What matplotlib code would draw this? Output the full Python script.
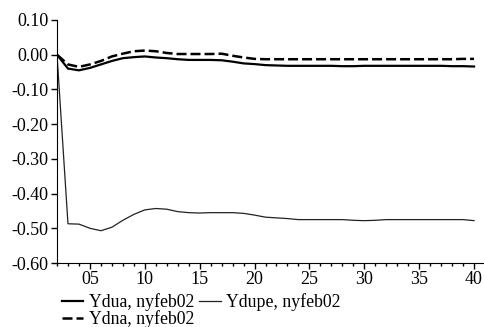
import matplotlib
matplotlib.use("Agg")
from matplotlib import pyplot
from matplotlib.ticker import MultipleLocator, FixedLocator

# donnees
periodes = list(range(2, 41))
ydua = [0.0, -0.040, -0.045, -0.038, -0.028, -0.018, -0.010, -0.007, -0.005,
        -0.008, -0.010, -0.013, -0.015, -0.015, -0.015, -0.016, -0.020,
        -0.025, -0.027, -0.030, -0.031, -0.032, -0.032, -0.032, -0.032,
        -0.032, -0.033, -0.033, -0.032, -0.032, -0.032, -0.032, -0.032,
        -0.032, -0.032, -0.032, -0.033, -0.033, -0.034]
ydupe = [0.0, -0.487, -0.488, -0.500, -0.507, -0.497, -0.477, -0.460, -0.447,
         -0.443, -0.445, -0.452, -0.455, -0.456, -0.455, -0.455, -0.455,
         -0.457, -0.462, -0.468, -0.470, -0.472, -0.475, -0.475, -0.475,
         -0.475, -0.475, -0.477, -0.478, -0.477, -0.475, -0.475, -0.475,
         -0.475, -0.475, -0.475, -0.475, -0.475, -0.478]
ydna = [0.0, -0.028, -0.035, -0.028, -0.018, -0.005, 0.003, 0.010, 0.012,
        0.010, 0.005, 0.002, 0.002, 0.002, 0.002, 0.003, -0.003, -0.008,
        -0.012, -0.013, -0.013, -0.013, -0.013, -0.013, -0.013, -0.013,
        -0.013, -0.013, -0.013, -0.013, -0.013, -0.013, -0.013, -0.013,
        -0.013, -0.013, -0.013, -0.012, -0.012]
ticks_x = [5, 10, 15, 20, 25, 30, 35, 40]
etiquettes_x = ['05', '10', '15', '20', '25', '30', '35', '40']
ticks_y = [0.10, 0.00, -0.10, -0.20, -0.30, -0.40, -0.50, -0.60]

pyplot.rcParams['font.family'] = 'Liberation Serif'

fig = pyplot.figure(figsize=(4.85, 3.27), dpi=100)
ax = fig.add_axes([57 / 485, 1 - 263 / 327, 1 - 57 / 485, (263 - 20) / 327])

l1, = ax.plot(periodes, ydua, color='black', lw=1.6,
              label='Ydua, nyfeb02')
l2, = ax.plot(periodes, ydupe, color='#222222', lw=0.9,
              label='Ydupe, nyfeb02')
l3, = ax.plot(periodes, ydna, color='black', lw=1.8, dashes=[4, 1.6],
              label='Ydna, nyfeb02')

ax.set_xlim(2, 41)
ax.set_ylim(-0.60, 0.10)
ax.spines['top'].set_visible(False)
ax.spines['right'].set_visible(False)
ax.set_xticks(ticks_x)
ax.set_xticklabels(etiquettes_x)
ax.xaxis.set_minor_locator(MultipleLocator(1))
ax.yaxis.set_major_locator(FixedLocator(ticks_y))
ax.set_yticklabels(['%.2f' % v for v in ticks_y])
ax.tick_params(axis='both', which='major', labelsize=13, direction='out',
               length=4, width=1, pad=2)
ax.tick_params(axis='x', which='minor', length=2.5, width=1)

fig.legend(handles=[l1, l3, l2], ncol=2, loc='upper left',
           bbox_to_anchor=(62 / 485, 1 - 293 / 327), frameon=False,
           fontsize=12.8, handlelength=1.2, handletextpad=0.3,
           columnspacing=0.3, labelspacing=-0.05, borderpad=0.0,
           borderaxespad=0.0)

fig.savefig('out.png', dpi=100)
pyplot.close()
